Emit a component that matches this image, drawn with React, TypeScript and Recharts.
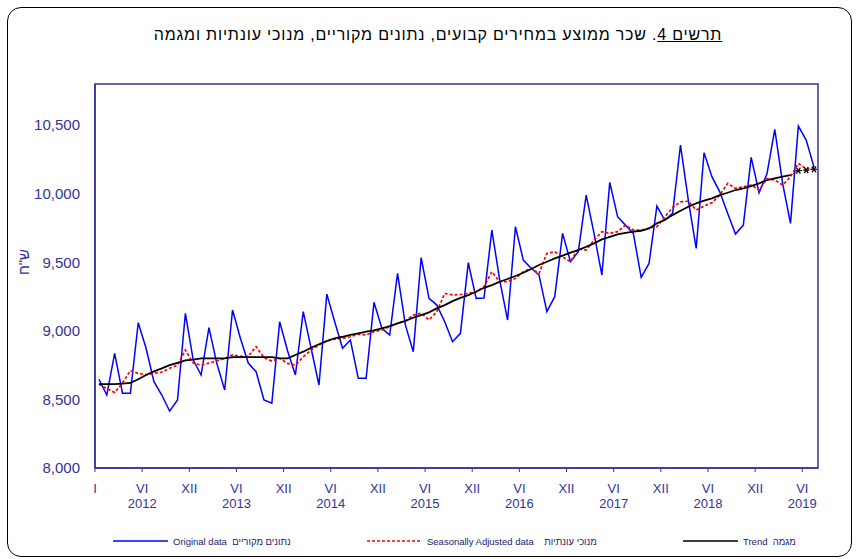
import { LineChart, Line, XAxis, YAxis, ReferenceArea } from "recharts";

// monthly, Jan 2012 .. Aug 2019 (index 0 = Jan 2012)
const original = [
  8647, 8532, 8836, 8545, 8545, 9059, 8873, 8629, 8532, 8415, 8496, 9128,
  8787, 8678, 9023, 8763, 8569, 9152, 8946, 8765, 8702, 8496, 8472, 9066,
  8855, 8678, 9140, 8873, 8605, 9268, 9066, 8873, 8933, 8654, 8654, 9208,
  9019, 8970, 9419, 9042, 8848, 9533, 9237, 9188, 9066, 8921, 8982, 9497,
  9237, 9240, 9735, 9370, 9079, 9759, 9516, 9456, 9407, 9140, 9249, 9711,
  9504, 9577, 9990, 9711, 9407, 10083, 9832, 9771, 9711, 9390, 9492, 9910,
  9808, 9857, 10355, 9954, 9601, 10299, 10124, 10014, 9857, 9706, 9771, 10265,
  10007, 10143, 10469, 10075, 9784, 10493, 10391, 10192,
];

const adjusted = [
  8610, 8580, 8550, 8620, 8710, 8690, 8680, 8690, 8700, 8727, 8750, 8860,
  8765, 8750, 8765, 8780, 8800, 8824, 8815, 8815, 8885, 8805, 8780, 8800,
  8763, 8750, 8811, 8860, 8897, 8926, 8940, 8945, 8957, 8975, 8970, 8994,
  9006, 9030, 9055, 9072, 9115, 9128, 9080, 9140, 9273, 9262, 9265, 9273,
  9285, 9322, 9431, 9358, 9358, 9383, 9431, 9456, 9419, 9565, 9577, 9540,
  9504, 9601, 9589, 9662, 9723, 9711, 9723, 9771, 9735, 9735, 9750, 9760,
  9830, 9900, 9940, 9945, 9881, 9910, 9934, 9990, 10075, 10039, 10051, 10063,
  10027, 10110, 10100, 10063, 10124, 10221, 10180, 10190,
];

const trend = [
  8612, 8612, 8612, 8615, 8620, 8647, 8678, 8705, 8726, 8750, 8767, 8785,
  8790, 8800, 8800, 8800, 8800, 8808, 8808, 8808, 8808, 8808, 8808, 8800,
  8800, 8824, 8848, 8877, 8902, 8926, 8946, 8957, 8970, 8982, 8994, 9004,
  9018, 9035, 9055, 9072, 9096, 9115, 9135, 9164, 9188, 9217, 9241, 9261,
  9285, 9314, 9334, 9358, 9378, 9400, 9424, 9451, 9480, 9504, 9528, 9548,
  9570, 9589, 9613, 9638, 9667, 9686, 9703, 9715, 9723, 9730, 9747, 9784,
  9808, 9844, 9876, 9905, 9930, 9949, 9966, 9990, 10007, 10027, 10039, 10056,
  10075, 10100, 10112, 10124, 10136, 10168, 10172, 10178,
];

// trend values from this month on are provisional (marked ***)
const estimateFrom = 88;

const xTicks = [-0.5, 5.5, 11.5, 17.5, 23.5, 29.5, 35.5, 41.5, 47.5, 53.5, 59.5, 65.5, 71.5, 77.5, 83.5, 89.5];
const tickMonths = ["I", "VI", "XII", "VI", "XII", "VI", "XII", "VI", "XII", "VI", "XII", "VI", "XII", "VI", "XII", "VI"];
const tickYears = ["", "2012", "", "2013", "", "2014", "", "2015", "", "2016", "", "2017", "", "2018", "", "2019"];
const yTicks = [8000, 8500, 9000, 9500, 10000, 10500];

const NAVY = "#333399";
const FONT = "'Liberation Sans', Arial, sans-serif";

const data = original.map((v, i) => ({
  i,
  original: v,
  adjusted: adjusted[i],
  trend: i <= estimateFrom ? trend[i] : null,
  estimate: i >= estimateFrom ? trend[i] : null,
}));

const MonthTick = ({ x, y, payload }: any) => {
  const idx = xTicks.indexOf(payload.value);
  return (
    <g fontFamily={FONT} fontSize={13} fill={NAVY}>
      <text x={x} y={y + 19} textAnchor="middle">{tickMonths[idx]}</text>
      {tickYears[idx] ? (
        <text x={x} y={y + 34} textAnchor="middle">{tickYears[idx]}</text>
      ) : null}
    </g>
  );
};

const Asterisk = ({ cx, cy, index }: any) => {
  if (cx == null || cy == null || index === estimateFrom) return <g key={index} />;
  return (
    <g key={index} stroke="#000" strokeWidth={1.2}>
      <line x1={cx - 3} y1={cy} x2={cx + 3} y2={cy} />
      <line x1={cx - 2} y1={cy - 3} x2={cx + 2} y2={cy + 3} />
      <line x1={cx + 2} y1={cy - 3} x2={cx - 2} y2={cy + 3} />
    </g>
  );
};

const legendItems = [
  { left: 113, text: "Original data", heb: "נתונים מקוריים", gap: "  ", stroke: "#0000ff", dash: undefined },
  { left: 367, text: "Seasonally Adjusted data", heb: "מנוכי עונתיות", gap: "    ", stroke: "#ff0000", dash: "3 2" },
  { left: 683, text: "Trend", heb: "מגמה", gap: "  ", stroke: "#000000", dash: undefined },
];

export default function App() {
  return (
    <div style={{ position: "absolute", left: 0, top: 0, width: 858, height: 559, background: "#fff", fontFamily: FONT, overflow: "hidden" }}>
      <div style={{ position: "absolute", left: 7, top: 7, width: 843, height: 548, border: "1px solid #000", borderRadius: 14 }} />
      <div style={{ position: "absolute", left: 9, top: 26, width: 858, textAlign: "center", fontSize: 16, letterSpacing: 0.8, color: "#000", direction: "rtl" }}>
        <span style={{ textDecoration: "underline" }}>תרשים 4</span>. שכר ממוצע במחירים קבועים, נתונים מקוריים, מנוכי עונתיות ומגמה
      </div>
      <div style={{ position: "absolute", left: 0, top: 0 }}>
        <LineChart width={858} height={559} data={data} margin={{ top: 84, right: 40, left: 0, bottom: 51 }}>
          <ReferenceArea x1={-0.5} x2={91.5} y1={8000} y2={10800} fill="none" stroke={NAVY} strokeWidth={1.5} ifOverflow="visible" />
          <XAxis
            dataKey="i"
            type="number"
            domain={[-0.5, 91.5]}
            ticks={xTicks}
            interval={0}
            height={40}
            axisLine={{ stroke: NAVY, strokeWidth: 1.5 }}
            tickLine={{ stroke: NAVY }}
            tickSize={4}
            tick={<MonthTick />}
          />
          <YAxis
            type="number"
            domain={[8000, 10800]}
            ticks={yTicks}
            width={95}
            axisLine={{ stroke: NAVY, strokeWidth: 1.5 }}
            tickLine={false}
            tickSize={6}
            tickMargin={9}
            tick={{ fill: NAVY, fontSize: 15, fontFamily: FONT }}
            tickFormatter={(v: number) => v.toLocaleString("en-US")}
            label={({ viewBox }: any) => {
              const lx = viewBox.x + 29;
              const ly = viewBox.y + viewBox.height / 2 - 14;
              return (
                <text x={lx} y={ly} transform={`rotate(-90, ${lx}, ${ly})`} textAnchor="middle" fill={NAVY} fontSize={15} fontFamily={FONT}>
                  ש"ח
                </text>
              );
            }}
          />
          <Line dataKey="original" stroke="#0000ff" strokeWidth={1.5} dot={false} isAnimationActive={false} />
          <Line dataKey="adjusted" stroke="#ff0000" strokeWidth={1.7} strokeDasharray="3 2" dot={false} isAnimationActive={false} />
          <Line dataKey="trend" stroke="#000" strokeWidth={1.8} dot={false} isAnimationActive={false} />
          <Line dataKey="estimate" stroke="#000" strokeWidth={1} strokeDasharray="1 2" dot={<Asterisk />} isAnimationActive={false} />
        </LineChart>
      </div>
      {legendItems.map((it) => (
        <div key={it.text} style={{ position: "absolute", left: it.left, top: 534, height: 14, display: "flex", alignItems: "center", fontSize: 9.5, color: "#1a1a6e" }}>
          <svg width={55} height={4}>
            <line x1={0} y1={2} x2={55} y2={2} stroke={it.stroke} strokeWidth={1.5} strokeDasharray={it.dash} />
          </svg>
          <span style={{ marginLeft: 5, whiteSpace: "pre" }}>
            {it.text}{it.gap}{it.heb}
          </span>
        </div>
      ))}
    </div>
  );
}
